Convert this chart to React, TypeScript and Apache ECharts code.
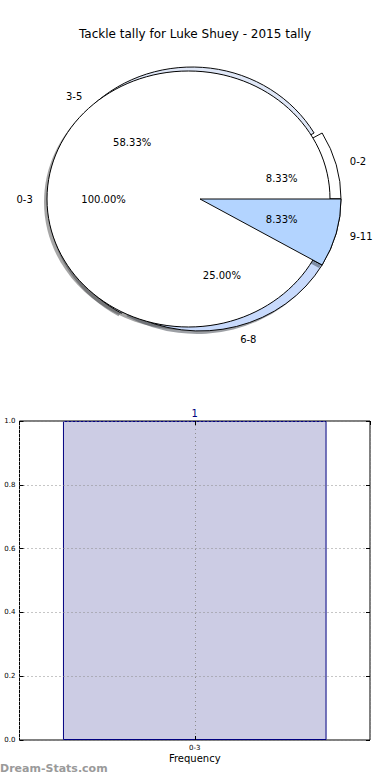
import React, { useEffect, useRef } from "react";
import * as echarts from "echarts";

// ---- data ----
const TITLE = "Tackle tally for Luke Shuey - 2015 tally";
const rangeLabels = ["0-2", "3-5", "6-8", "9-11"];
const rangeCounts = [1, 7, 3, 1];
const overallLabels = ["0-3"];
const overallCounts = [1];
const barCategories = ["0-3"];
const barValues = [1];
const WATERMARK = "Dream-Stats.com";

// ---- styles / layout ----
const rangeColors = ["#ffffff", "#dfe7f7", "#c8dafc", "#b3d4ff"];
const overallColors = ["#ffffff"];
const topSliceIndex = 3; // slice drawn above the overall pie
const B = { cx: 200, cy: 199, rx: 141, ry: 132 };
const W = { cx: 188.5, cy: 199, rx: 141.5, ry: 128 };
const sliceShift = [
  [0, 0],
  [-8, 0],
  [0, 0],
  [0, 0],
];
const SHADOW = [-3, 3];
const FONT = "DejaVu Sans";

const shadowOf = (hex: string) => {
  const n = parseInt(hex.slice(1), 16);
  const r = (n >> 16) & 255,
    g = (n >> 8) & 255,
    b = n & 255;
  return `rgba(${Math.round(r * 0.3)},${Math.round(g * 0.3)},${Math.round(b * 0.3)},0.5)`;
};

const sum = (a: number[]) => a.reduce((s, v) => s + v, 0);

function wedge(cx: number, cy: number, rx: number, ry: number, t1: number, t2: number, fill: string, stroke: string | null) {
  const style: any = { fill, stroke: stroke || "none", lineWidth: stroke ? 1 : 0, strokeNoScale: true };
  if (t2 - t1 >= Math.PI * 2 - 1e-9) {
    return { type: "ellipse", shape: { cx, cy, rx, ry }, style };
  }
  return {
    type: "group",
    x: cx,
    y: cy,
    scaleY: ry / rx,
    children: [
      {
        type: "sector",
        shape: { cx: 0, cy: 0, r: rx, r0: 0, startAngle: -t2, endAngle: -t1, clockwise: true },
        style,
      },
    ],
  };
}

function label(x: number, y: number, text: string, align: string) {
  return {
    type: "text",
    x,
    y,
    style: { text, fill: "#000", fontSize: 10, fontFamily: FONT, align, verticalAlign: "middle" },
  };
}

function pieGeometry(counts: number[]) {
  const total = sum(counts);
  let cum = 0;
  return counts.map((c) => {
    const t1 = (cum / total) * Math.PI * 2;
    cum += c;
    const t2 = (cum / total) * Math.PI * 2;
    return { t1, t2, mid: (t1 + t2) / 2, pct: ((c / total) * 100).toFixed(2) + "%" };
  });
}

function renderPies() {
  const children: any[] = [];
  const rg = pieGeometry(rangeCounts);
  const og = pieGeometry(overallCounts);

  og.forEach((s, i) => {
    children.push(wedge(W.cx + SHADOW[0], W.cy + SHADOW[1], W.rx, W.ry, s.t1, s.t2, shadowOf(overallColors[i]), null));
  });
  rg.forEach((s, i) => {
    const cx = B.cx + sliceShift[i][0],
      cy = B.cy + sliceShift[i][1];
    children.push(wedge(cx + SHADOW[0], cy + SHADOW[1], B.rx, B.ry, s.t1, s.t2, shadowOf(rangeColors[i]), null));
    children.push(wedge(cx, cy, B.rx, B.ry, s.t1, s.t2, rangeColors[i], "#000"));
  });
  og.forEach((s, i) => {
    children.push(wedge(W.cx, W.cy, W.rx, W.ry, s.t1, s.t2, overallColors[i], "#000"));
  });
  {
    const i = topSliceIndex;
    const s = rg[i];
    children.push(wedge(B.cx + sliceShift[i][0], B.cy + sliceShift[i][1], B.rx, B.ry, s.t1, s.t2, rangeColors[i], "#000"));
  }
  rg.forEach((s, i) => {
    const cx = B.cx + sliceShift[i][0],
      cy = B.cy + sliceShift[i][1];
    const c = Math.cos(s.mid),
      sn = Math.sin(s.mid);
    children.push(label(cx + 1.1 * B.rx * c, cy - 1.1 * B.ry * sn, rangeLabels[i], c < 0 ? "right" : "left"));
    children.push(label(cx + 0.6 * B.rx * c, cy - 0.6 * B.ry * sn, s.pct, "center"));
  });
  og.forEach((s, i) => {
    const c = Math.cos(s.mid),
      sn = Math.sin(s.mid);
    children.push(label(W.cx + 1.1 * W.rx * c, W.cy - 1.1 * W.ry * sn, overallLabels[i], c < 0 ? "right" : "left"));
    children.push(label(W.cx + 0.6 * W.rx * c, W.cy - 0.6 * W.ry * sn, s.pct, "center"));
  });
  return { type: "group", children };
}

const gridLine = { type: [1, 3], color: "#8c8c8c", width: 1 };
const tickIn = { show: true, inside: true, length: 4, lineStyle: { color: "#000" } };
const noLine = { show: false, onZero: false };

const option: any = {
  animation: false,
  backgroundColor: "#ffffff",
  textStyle: { fontFamily: FONT },
  title: {
    text: TITLE,
    left: "center",
    top: 23,
    textStyle: { fontSize: 12, fontWeight: "normal", color: "#000", fontFamily: FONT },
  },
  grid: {
    left: 19.5,
    right: 20,
    top: 421,
    bottom: 40,
    show: true,
    borderColor: "#000",
    borderWidth: 1,
    backgroundColor: "transparent",
  },
  xAxis: [
    {
      type: "category",
      data: barCategories,
      position: "bottom",
      z: 5,
      axisLine: noLine,
      axisTick: { ...tickIn, alignWithLabel: true },
      axisLabel: { fontSize: 7, color: "#000", margin: 4, fontFamily: FONT },
      splitLine: { show: false },
      name: "Frequency",
      nameLocation: "middle",
      nameGap: 13,
      nameTextStyle: { fontSize: 10, color: "#000", fontFamily: FONT },
    },
    {
      type: "value",
      min: -0.5,
      max: 0.5,
      interval: 0.5,
      position: "top",
      z: 5,
      axisLine: noLine,
      axisTick: tickIn,
      axisLabel: { show: false },
      splitLine: { show: true, lineStyle: gridLine },
    },
  ],
  yAxis: [
    {
      type: "value",
      min: 0,
      max: 1,
      interval: 0.2,
      position: "left",
      z: 5,
      axisLine: noLine,
      axisTick: tickIn,
      axisLabel: { fontSize: 7, color: "#000", margin: 4, fontFamily: FONT, formatter: (v: number) => v.toFixed(1) },
      splitLine: { show: true, lineStyle: gridLine },
    },
    {
      type: "value",
      min: 0,
      max: 1,
      interval: 0.2,
      position: "right",
      z: 5,
      axisLine: noLine,
      axisTick: tickIn,
      axisLabel: { show: false },
      splitLine: { show: false },
    },
  ],
  series: [
    {
      type: "bar",
      xAxisIndex: 0,
      yAxisIndex: 0,
      z: 2,
      data: barValues,
      barWidth: "75.2%",
      itemStyle: { color: "#ccccE4", borderColor: "#000080", borderWidth: 1 },
      label: { show: true, position: "top", color: "#000080", fontSize: 10, distance: 3, fontFamily: FONT },
    },
    {
      type: "custom",
      coordinateSystem: "none",
      data: [[0]],
      silent: true,
      z: 5,
      renderItem: () => renderPies(),
    },
  ],
  graphic: [
    {
      type: "text",
      left: 0,
      top: 763,
      style: { text: WATERMARK, fill: "#9a9a9a", font: `bold 11px ${FONT}` },
    },
  ],
};

export default function App() {
  const ref = useRef<HTMLDivElement>(null);
  useEffect(() => {
    const chart = echarts.init(ref.current!, null, { renderer: "svg" });
    chart.setOption(option);
    return () => chart.dispose();
  }, []);
  return (
    <div
      ref={ref}
      style={{ position: "absolute", left: 0, top: 0, width: 390, height: 780, background: "#fff" }}
    />
  );
}
